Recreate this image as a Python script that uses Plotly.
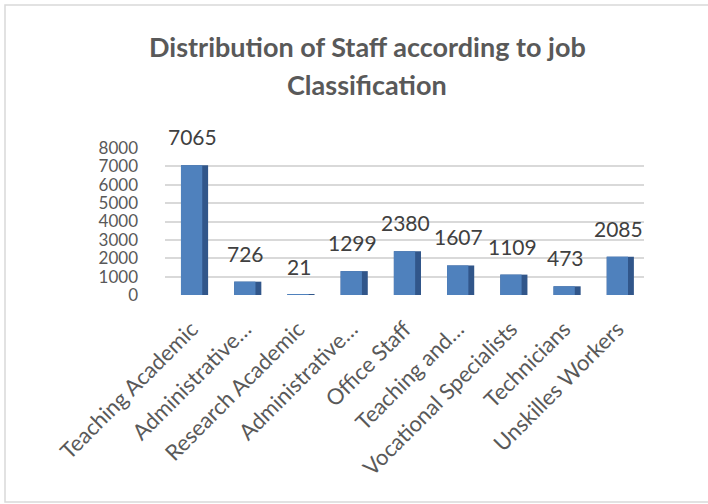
import plotly.graph_objects as go

categories = ["Teaching Academic", "Administrative…", "Research Academic", "Administrative…",
              "Office Staff", "Teaching and…", "Vocational Specialists", "Technicians",
              "Unskilles Workers"]
values = [7065, 726, 21, 1299, 2380, 1607, 1109, 473, 2085]
y_ticks = [0, 1000, 2000, 3000, 4000, 5000, 6000, 7000, 8000]
title_lines = ["Distribution of Staff according to job", "Classification"]

W, H = 708, 504
ML, MT = 165, 148
MR = W - 644
MB = H - 295
PW, PH = W - ML - MR, H - MT - MB

def px_x(px):
    return (px - ML) / PW

def px_y(py):
    return (H - MB - py) / PH

FONT = "Lato"
idx = list(range(len(categories)))

fig = go.Figure()
# darker side face (pseudo-3D)
fig.add_trace(go.Bar(x=idx, y=values, width=0.51, offset=-0.2,
                     marker=dict(color="#31568a", line=dict(width=0)),
                     hoverinfo="skip", showlegend=False))
# front face
fig.add_trace(go.Bar(x=idx, y=values, width=0.4, offset=-0.2,
                     marker=dict(color="#4f81bd", line=dict(width=0)),
                     showlegend=False))

annotations = []
for i, v in zip(idx, values):
    annotations.append(dict(x=i + 0.02, y=v, xref="x", yref="y", text=str(v), showarrow=False,
                            yanchor="bottom", yshift=14,
                            font=dict(family=FONT, size=21, color="#404040")))
for k, (line, py) in enumerate(zip(title_lines, [47, 84])):
    annotations.append(dict(x=px_x(367), y=px_y(py), xref="paper", yref="paper", text="<b>%s</b>" % line,
                            showarrow=False, xanchor="center", yanchor="middle",
                            font=dict(family=FONT, size=27, color="#595959")))

fig.update_layout(
    width=W, height=H,
    margin=dict(l=ML, r=MR, t=MT, b=MB),
    paper_bgcolor="white", plot_bgcolor="white",
    barmode="overlay",
    annotations=annotations,
    shapes=[dict(type="rect", xref="paper", yref="paper",
                 x0=px_x(5), x1=px_x(720), y0=px_y(502), y1=px_y(5),
                 line=dict(color="#d9d9d9", width=1.5), layer="below")],
    xaxis=dict(range=[-0.5, len(categories) - 0.5], tickmode="array", tickvals=idx,
               ticktext=categories, tickangle=-45, showgrid=False, zeroline=False,
               showline=False, ticks="", ticklabelstandoff=16,
               tickfont=dict(family=FONT, size=22, color="#595959")),
    yaxis=dict(range=[0, 8000], tickmode="array", tickvals=y_ticks,
               ticktext=[str(t) for t in y_ticks], showgrid=True, gridcolor="#d9d9d9",
               gridwidth=1.5, zeroline=False, showline=False, ticks="",
               ticklabelstandoff=26,
               tickfont=dict(family=FONT, size=17, color="#595959")),
)

fig.write_html("out.html", config={"displayModeBar": False},
               post_script="document.body.style.margin='0';")
